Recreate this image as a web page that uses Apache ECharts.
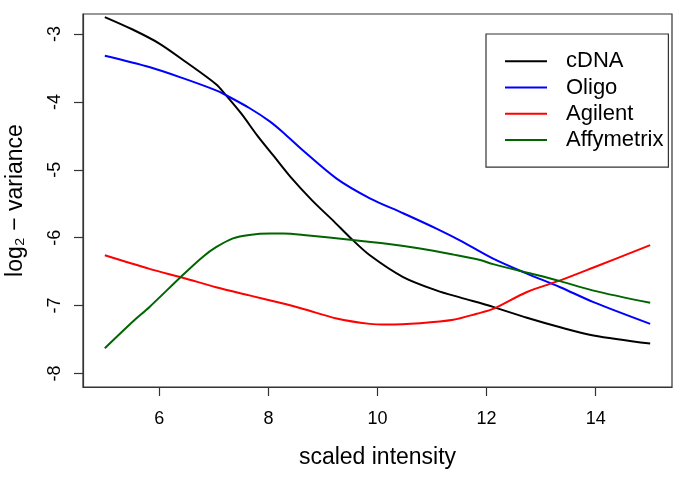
<!DOCTYPE html>
<html>
<head>
<meta charset="utf-8">
<script src="https://cdn.jsdelivr.net/npm/echarts@6/dist/echarts.min.js"></script>
<style>
html,body{margin:0;padding:0;background:#fff;}
#chart{width:685px;height:487px;}
</style>
</head>
<body>
<div id="chart"></div>
<script>
const seriesNames = ['cDNA', 'Oligo', 'Agilent', 'Affymetrix'];

const cdnaX = [5, 5.5, 6, 6.5, 7.04, 7.22, 7.5, 7.8, 8.1, 8.4, 8.8, 9.2, 9.5, 9.86, 10.47, 11.09, 11.51, 12.12, 12.74, 13.35, 13.96, 15];
const cdnaY = [-2.75, -2.93, -3.14, -3.42, -3.74, -3.90, -4.17, -4.50, -4.80, -5.10, -5.45, -5.76, -6.00, -6.26, -6.58, -6.78, -6.88, -7.02, -7.18, -7.32, -7.44, -7.56];

const oligoX = [5, 5.83, 6.43, 7.04, 7.22, 7.65, 8.03, 8.27, 8.64, 9.25, 9.86, 10.47, 11.09, 11.51, 12.12, 12.74, 13.35, 13.96, 15];
const oligoY = [-3.32, -3.49, -3.65, -3.83, -3.90, -4.09, -4.29, -4.45, -4.72, -5.13, -5.42, -5.64, -5.87, -6.04, -6.31, -6.53, -6.73, -6.95, -7.27];

const agilentX = [5, 5.82, 6.43, 7.04, 7.65, 8.27, 8.64, 9.25, 9.86, 10.17, 10.78, 11.39, 11.82, 12.12, 12.74, 13.35, 13.96, 15];
const agilentY = [-6.26, -6.46, -6.59, -6.73, -6.85, -6.97, -7.05, -7.19, -7.27, -7.28, -7.26, -7.21, -7.12, -7.05, -6.80, -6.63, -6.44, -6.11];

const affyX = [5, 5.51, 5.82, 6.43, 6.8, 7.04, 7.35, 7.65, 8.03, 8.27, 8.64, 9.5, 10.17, 10.78, 11.39, 11.88, 12.12, 12.92, 13.35, 13.96, 15];
const affyY = [-7.63, -7.24, -7.02, -6.55, -6.28, -6.14, -6.01, -5.96, -5.94, -5.94, -5.96, -6.03, -6.09, -6.16, -6.25, -6.33, -6.39, -6.55, -6.64, -6.78, -6.96];

const xTicks = [6, 8, 10, 12, 14];
const yTicks = [-8, -7, -6, -5, -4, -3];
const colors = ['#000000', '#0000ff', '#ff0000', '#006400'];

function pairs(xs, ys) { return xs.map((x, i) => [x, ys[i]]); }
const allData = [pairs(cdnaX, cdnaY), pairs(oligoX, oligoY), pairs(agilentX, agilentY), pairs(affyX, affyY)];

const FONT = 'Liberation Sans, Arial, Helvetica, sans-serif';
const chart = echarts.init(document.getElementById('chart'), null, {renderer: 'canvas'});
chart.setOption({
  animation: false,
  backgroundColor: '#ffffff',
  grid: {left: 83, top: 14, right: 13, bottom: 100, containLabel: false, outerBoundsMode: 'none', show: true, borderColor: '#333', borderWidth: 1.2, backgroundColor: 'transparent'},
  xAxis: {
    type: 'value', min: 4.6, max: 15.4,
    name: 'scaled intensity', nameLocation: 'middle', nameGap: 59,
    nameTextStyle: {fontFamily: FONT, fontSize: 23, color: '#000'},
    axisLine: {show: true, lineStyle: {color: '#333', width: 1.2}},
    axisTick: {show: true, inside: false, length: 9, customValues: xTicks, lineStyle: {color: '#333', width: 1.2}},
    axisLabel: {show: true, margin: 23, customValues: xTicks, fontFamily: FONT, fontSize: 18, color: '#000'},
    splitLine: {show: false}
  },
  yAxis: {
    type: 'value', min: -8.2, max: -2.705,
    name: 'log\u2082 \u2212 variance', nameLocation: 'middle', nameGap: 56, nameRotate: 90,
    nameTextStyle: {fontFamily: FONT, fontSize: 23, color: '#000'},
    axisLine: {show: true, lineStyle: {color: '#333', width: 1.2}},
    axisTick: {show: true, inside: false, length: 9, customValues: yTicks, lineStyle: {color: '#333', width: 1.2}},
    axisLabel: {show: true, margin: 19, rotate: 90, customValues: yTicks, fontFamily: FONT, fontSize: 18, color: '#000'},
    splitLine: {show: false}
  },
  legend: {
    orient: 'vertical', left: 486, top: 34,
    data: seriesNames,
    icon: 'rect', itemWidth: 42, itemHeight: 2, itemGap: 0,
    padding: [14, 5, 14, 19],
    borderColor: '#333', borderWidth: 1.2, backgroundColor: '#fff',
    textStyle: {fontFamily: FONT, fontSize: 22, color: '#000', lineHeight: 26.3, padding: [0, 0, 0, 14]}
  },
  series: seriesNames.map((n, i) => ({
    name: n, type: 'line', data: allData[i], smooth: 0.3, showSymbol: false, symbol: 'none',
    lineStyle: {color: colors[i], width: 2}, itemStyle: {color: colors[i]}, z: 3
  }))
});
</script>
</body>
</html>
